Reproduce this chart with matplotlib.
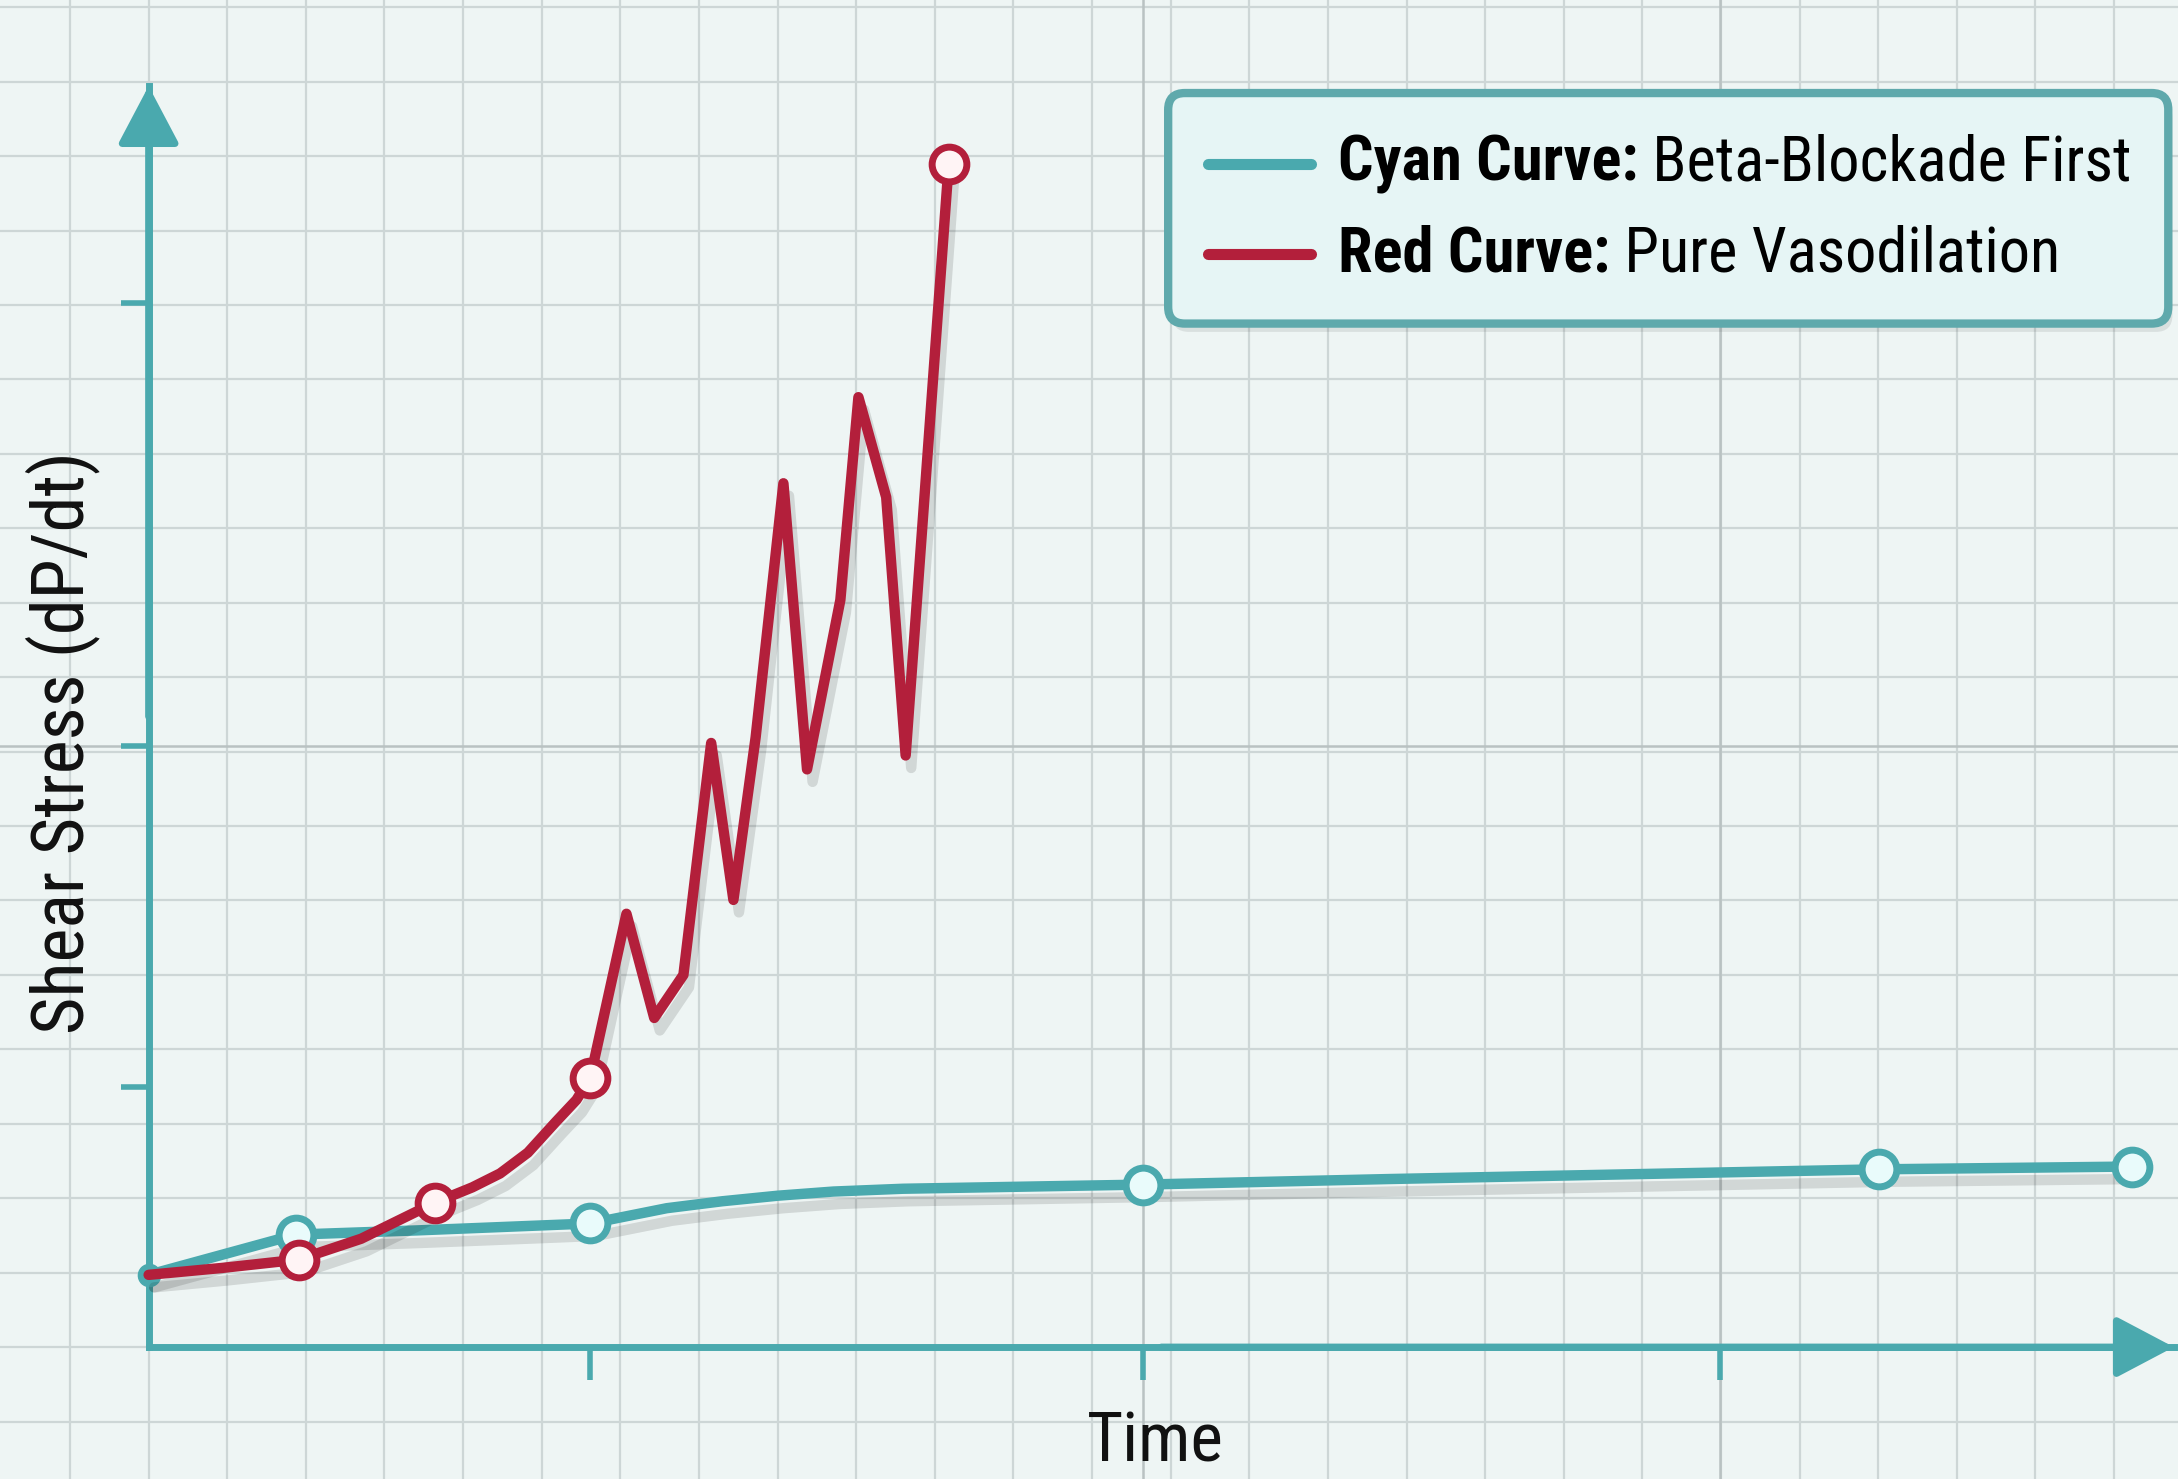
import matplotlib
matplotlib.use("Agg")
import numpy as np
import matplotlib.pyplot as plt
import matplotlib.patheffects as pe
from matplotlib.patches import FancyBboxPatch

# Values (arbitrary time / stress units)
cyan_time = [0, 10.6, 19.3, 31.8, 34.3, 37.3, 41.3, 45.3, 49.3, 54.3, 71.6,
             89.3, 124.6, 142.8]
cyan_stress = [5.2, 8.1, 8.4, 8.9, 9.4, 10.0, 10.5, 10.9, 11.2, 11.4, 11.7,
               12.1, 12.8, 13.0]
cyan_marker_idx = [1, 3, 10, 12, 13]

red_time = [0, 5.3, 10.8, 15.3, 20.6, 23.3, 25.3, 27.3, 29.3, 30.8, 31.8,
            34.4, 36.4, 38.5, 40.5, 42.1, 43.7, 45.7, 47.4, 49.8, 51.1, 53.1,
            54.5, 57.6]
red_stress = [5.2, 5.7, 6.3, 7.8, 10.4, 11.5, 12.5, 14.0, 16.2, 17.8, 19.4,
              31.2, 23.7, 26.8, 43.5, 32.2, 43.9, 62.2, 41.6, 53.8, 68.4,
              61.2, 42.6, 85.2]
red_marker_idx = [2, 4, 10, 23]

x_ticks = [31.8, 71.6, 113.1]
y_ticks = [18.7, 43.3, 75.2]

legend_bold = ["Cyan Curve:", "Red Curve:"]
legend_rest = [" Beta-Blockade First", " Pure Vasodilation"]

# Colours
CYAN = "#4aa9ae"
RED = "#b31f3b"
BG = "#eef5f4"
GRID = "#cdd6d6"
GRID_DARK = "#b9c2c2"

NARROW = ["Roboto Condensed", "Liberation Sans Narrow", "Roboto", "DejaVu Sans"]

fig = plt.figure(figsize=(21.78, 14.79), dpi=100)
fig.patch.set_facecolor(BG)

# Background "graph paper" axes, in reference-pixel units (1568 x 1065)
bg = fig.add_axes([0, 0, 1, 1])
bg.set_xlim(0, 1568)
bg.set_ylim(1065, 0)
bg.set_facecolor(BG)
bg.axis("off")
for gx in np.arange(107 - 2 * 56.6, 1568, 56.6):
    bg.axvline(gx, color=GRID, lw=1.6, zorder=0)
for gy in np.arange(970 + 2 * 53.6, 0, -53.6):
    bg.axhline(gy, color=GRID, lw=1.6, zorder=0)
for gx in [823, 1238]:
    bg.axvline(gx, color=GRID_DARK, lw=1.8, zorder=0)
bg.axhline(537, color=GRID_DARK, lw=1.8, zorder=0)

# Main axes
ax = fig.add_axes([107 / 1568, 95 / 1065, 1458 / 1568, 908 / 1065])
ax.patch.set_alpha(0)
ax.set_xlim(0, 145.8)
ax.set_ylim(0, 90.8)
for side in ["top", "right"]:
    ax.spines[side].set_visible(False)
for side in ["left", "bottom"]:
    ax.spines[side].set_color(CYAN)
    ax.spines[side].set_linewidth(5)
ax.set_xticks(x_ticks)
ax.set_yticks(y_ticks)
ax.set_xticklabels([])
ax.set_yticklabels([])
ax.tick_params(axis="x", direction="out", length=24, width=4, color=CYAN)
ax.tick_params(axis="y", direction="out", length=20, width=4, color=CYAN)

# Arrow heads on the axes
arrow = dict(arrowstyle="-|>,head_length=0.36,head_width=0.19", color=CYAN,
             lw=5, mutation_scale=100, shrinkA=0, shrinkB=0)
ax.annotate("", xy=(0, 1), xytext=(0, 0.5), xycoords="axes fraction",
            arrowprops=arrow, annotation_clip=False)
ax.annotate("", xy=(1, 0), xytext=(0.5, 0), xycoords="axes fraction",
            arrowprops=arrow, annotation_clip=False)

shadow = [pe.SimpleLineShadow(offset=(4, -9), alpha=0.12, shadow_color="k"),
          pe.Normal()]

ax.plot(cyan_time, cyan_stress, color=CYAN, lw=7.5, solid_capstyle="round",
        solid_joinstyle="round", clip_on=False, zorder=3, path_effects=shadow)
ax.plot([cyan_time[i] for i in cyan_marker_idx],
        [cyan_stress[i] for i in cyan_marker_idx], ls="none", marker="o",
        ms=25, mfc="#e9fbfb", mec=CYAN, mew=5, clip_on=False, zorder=4)
ax.plot(cyan_time[0], cyan_stress[0], marker="o", ms=16, color=CYAN,
        clip_on=False, zorder=4)

ax.plot(red_time, red_stress, color=RED, lw=7.5, solid_capstyle="round",
        solid_joinstyle="round", clip_on=False, zorder=5, path_effects=shadow)
ax.plot([red_time[i] for i in red_marker_idx],
        [red_stress[i] for i in red_marker_idx], ls="none", marker="o",
        ms=25, mfc="#fff4f5", mec=RED, mew=5, clip_on=False, zorder=6)

# Axis labels
fig.text(45 / 1568, 1 - 535 / 1065, "Shear Stress (dP/dt)", rotation=90,
         ha="center", va="center", fontsize=52, family=NARROW, color="#111111")
fig.text(832 / 1568, 1 - 1015 / 1065, "Time", ha="center", va="top",
         fontsize=50, family=NARROW, color="#111111")

# Legend box
box = FancyBboxPatch((841, 67), 720, 166, boxstyle="round,pad=0,rounding_size=12",
                     fc="#e6f5f5", ec="#5fa9ac", lw=6, zorder=10,
                     path_effects=[pe.SimplePatchShadow(offset=(3, -6), alpha=0.12),
                                   pe.Normal()])
bg.add_patch(box)
handle_y = [118, 183]
handle_colors = [CYAN, RED]
for i in range(2):
    bg.plot([870, 944], [handle_y[i], handle_y[i]], color=handle_colors[i],
            lw=8, solid_capstyle="round", zorder=11)
    t = bg.text(963, handle_y[i], legend_bold[i], ha="left", va="center",
                fontsize=45, fontweight="bold", family=NARROW, zorder=11)
    bg.annotate(legend_rest[i], xy=(1, 0), xycoords=t, ha="left", va="bottom",
                fontsize=45, family=NARROW, zorder=11)

fig.savefig("out.png", dpi=100, facecolor=BG)
